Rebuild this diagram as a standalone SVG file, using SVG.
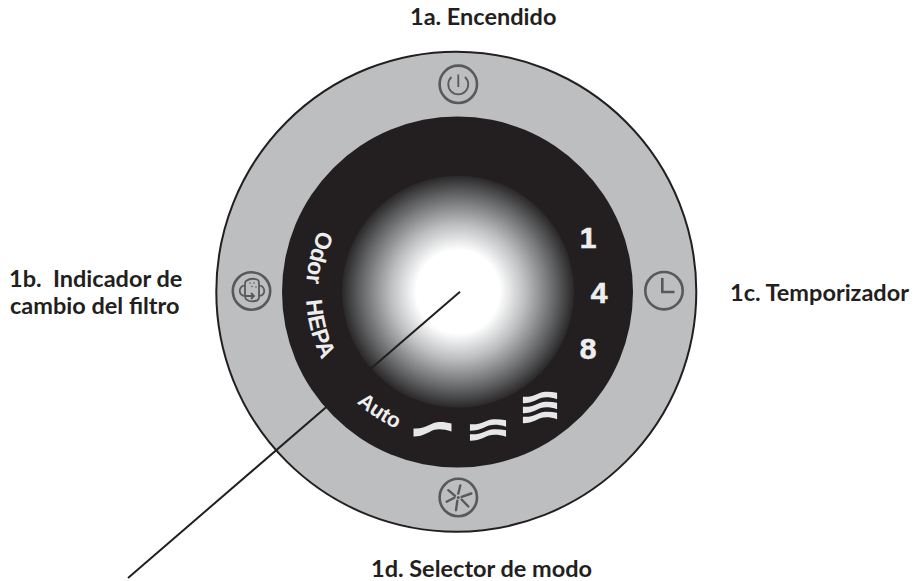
<svg xmlns="http://www.w3.org/2000/svg" width="915" height="581" viewBox="0 0 915 581">
<style>
.lbl{font-family:"Lato","Liberation Sans",sans-serif;font-weight:700;font-size:23.500px;fill:#231f20}
.pan{font-family:"Liberation Sans",sans-serif;font-weight:700;fill:#eeeeef}
.num{stroke:#eeeeef;stroke-width:.6}
.ico{fill:none;stroke:#58595b;stroke-width:2.600}
.thin{fill:none;stroke:#58595b;stroke-width:1.800}
.blade{fill:none;stroke:#58595b;stroke-width:2.400;stroke-linecap:round}
.wave{fill:#e6e7e8}
</style>
<defs>
<radialGradient id="g" gradientUnits="userSpaceOnUse" cx="458" cy="291.700" r="116">
<stop offset="0" stop-color="#fff"/><stop offset=".36" stop-color="#fff"/><stop offset=".58" stop-color="#bcbec0"/><stop offset=".85" stop-color="#5f6062"/><stop offset="1" stop-color="#2a2829"/>
</radialGradient>
<path id="w" d="M-19,-1.500 C-12,-1 -7,-3 -1,-6 C5,-9 12,-8 19,-6.500 L19,1.500 C12,-1 6,-1.500 1,0 C-5,3 -12,7 -19,6.500 Z"/>
<path id="arcL" d="M319.200,230 A152,152 0 0 0 334,380"/>
<path id="arcB" d="M356.700,402.600 A150,150 0 0 0 458,442"/>
</defs>
<g id="dial">
<circle cx="456.300" cy="291.700" r="240" fill="#bcbec0" stroke="#231f20" stroke-width="2"/>
<circle cx="457.500" cy="292" r="175.500" fill="#231f20"/>
<circle cx="458" cy="291.700" r="116" fill="url(#g)"/>
</g>
<g id="power">
<circle class="ico" cx="458.300" cy="84.300" r="18.700"/>
<path class="thin" d="M451.500,77 A10,10 0 1 0 465,77 M458.300,74.500 V87"/>
</g>
<g id="filter">
<circle class="ico" cx="251.500" cy="291" r="18.700"/>
<path class="thin" d="M246,281 Q251,277.500 257,279.500 Q259,280 259,283 L259,298 Q258,301 255,301 Q250,302 247,300 Q245,299 245,296 L245,284 Q245,282 246,281 Z M245,285 C238,287 238,295 245,296 H254 M251,293 L254,296 L251,299 M259,285 C266,287 266,295 259,296"/>
<g fill="#58595b"><circle cx="250" cy="283" r=".8"/><circle cx="254" cy="283" r=".8"/><circle cx="252" cy="286.500" r=".8"/><circle cx="256" cy="287" r=".8"/></g>
</g>
<g id="clock">
<circle class="ico" cx="664" cy="290.700" r="18.700"/>
<path class="ico" d="M662.300,278 V292 H674.500"/>
</g>
<g id="fan">
<circle class="ico" cx="458.300" cy="497.500" r="18.700"/>
<path class="blade" d="M460.300,485.500 L458.300,493.500 M471.300,493.500 L461.600,496.800 M468.300,506.500 L461.600,499.500 M456,510.200 L457.300,500.800 M446.600,501.800 L454.300,497.800 M448.300,490.200 L455,495.800"/>
<circle cx="458.300" cy="497.500" r="1.500" fill="#58595b"/>
</g>
<g id="panel">
<text class="pan" font-size="23"><textPath href="#arcL">Odor</textPath></text>
<text class="pan" font-size="23"><textPath href="#arcL" startOffset="72">HEPA</textPath></text>
<text class="pan" font-size="21"><textPath href="#arcB">Auto</textPath></text>
<text class="pan num" font-size="30" text-anchor="middle" x="588" y="248">1</text>
<text class="pan num" font-size="30" text-anchor="middle" x="599" y="303">4</text>
<text class="pan num" font-size="30" text-anchor="middle" x="588" y="359">8</text>
<use href="#w" class="wave" transform="translate(432.500,430)"/>
<use href="#w" class="wave" transform="translate(488,425.500) scale(.95,.8)"/>
<use href="#w" class="wave" transform="translate(488,435.500) scale(.95,.8)"/>
<use href="#w" class="wave" transform="translate(540,398) scale(.9,.8)"/>
<use href="#w" class="wave" transform="translate(540,408) scale(.9,.8)"/>
<use href="#w" class="wave" transform="translate(540,418) scale(.9,.8)"/>
</g>
<g id="connectors">
<path d="M460,291.700 L128,578" fill="none" stroke="#231f20" stroke-width="2"/>
</g>
<g id="labels">
<text class="lbl" x="410" y="25">1a. Encendido</text>
<text class="lbl" xml:space="preserve" x="9" y="287">1b.  Indicador de</text>
<text class="lbl" x="10" y="314">cambio del filtro</text>
<text class="lbl" x="730" y="301">1c. Temporizador</text>
<text class="lbl" x="371" y="577">1d. Selector de modo</text>
</g>
</svg>
